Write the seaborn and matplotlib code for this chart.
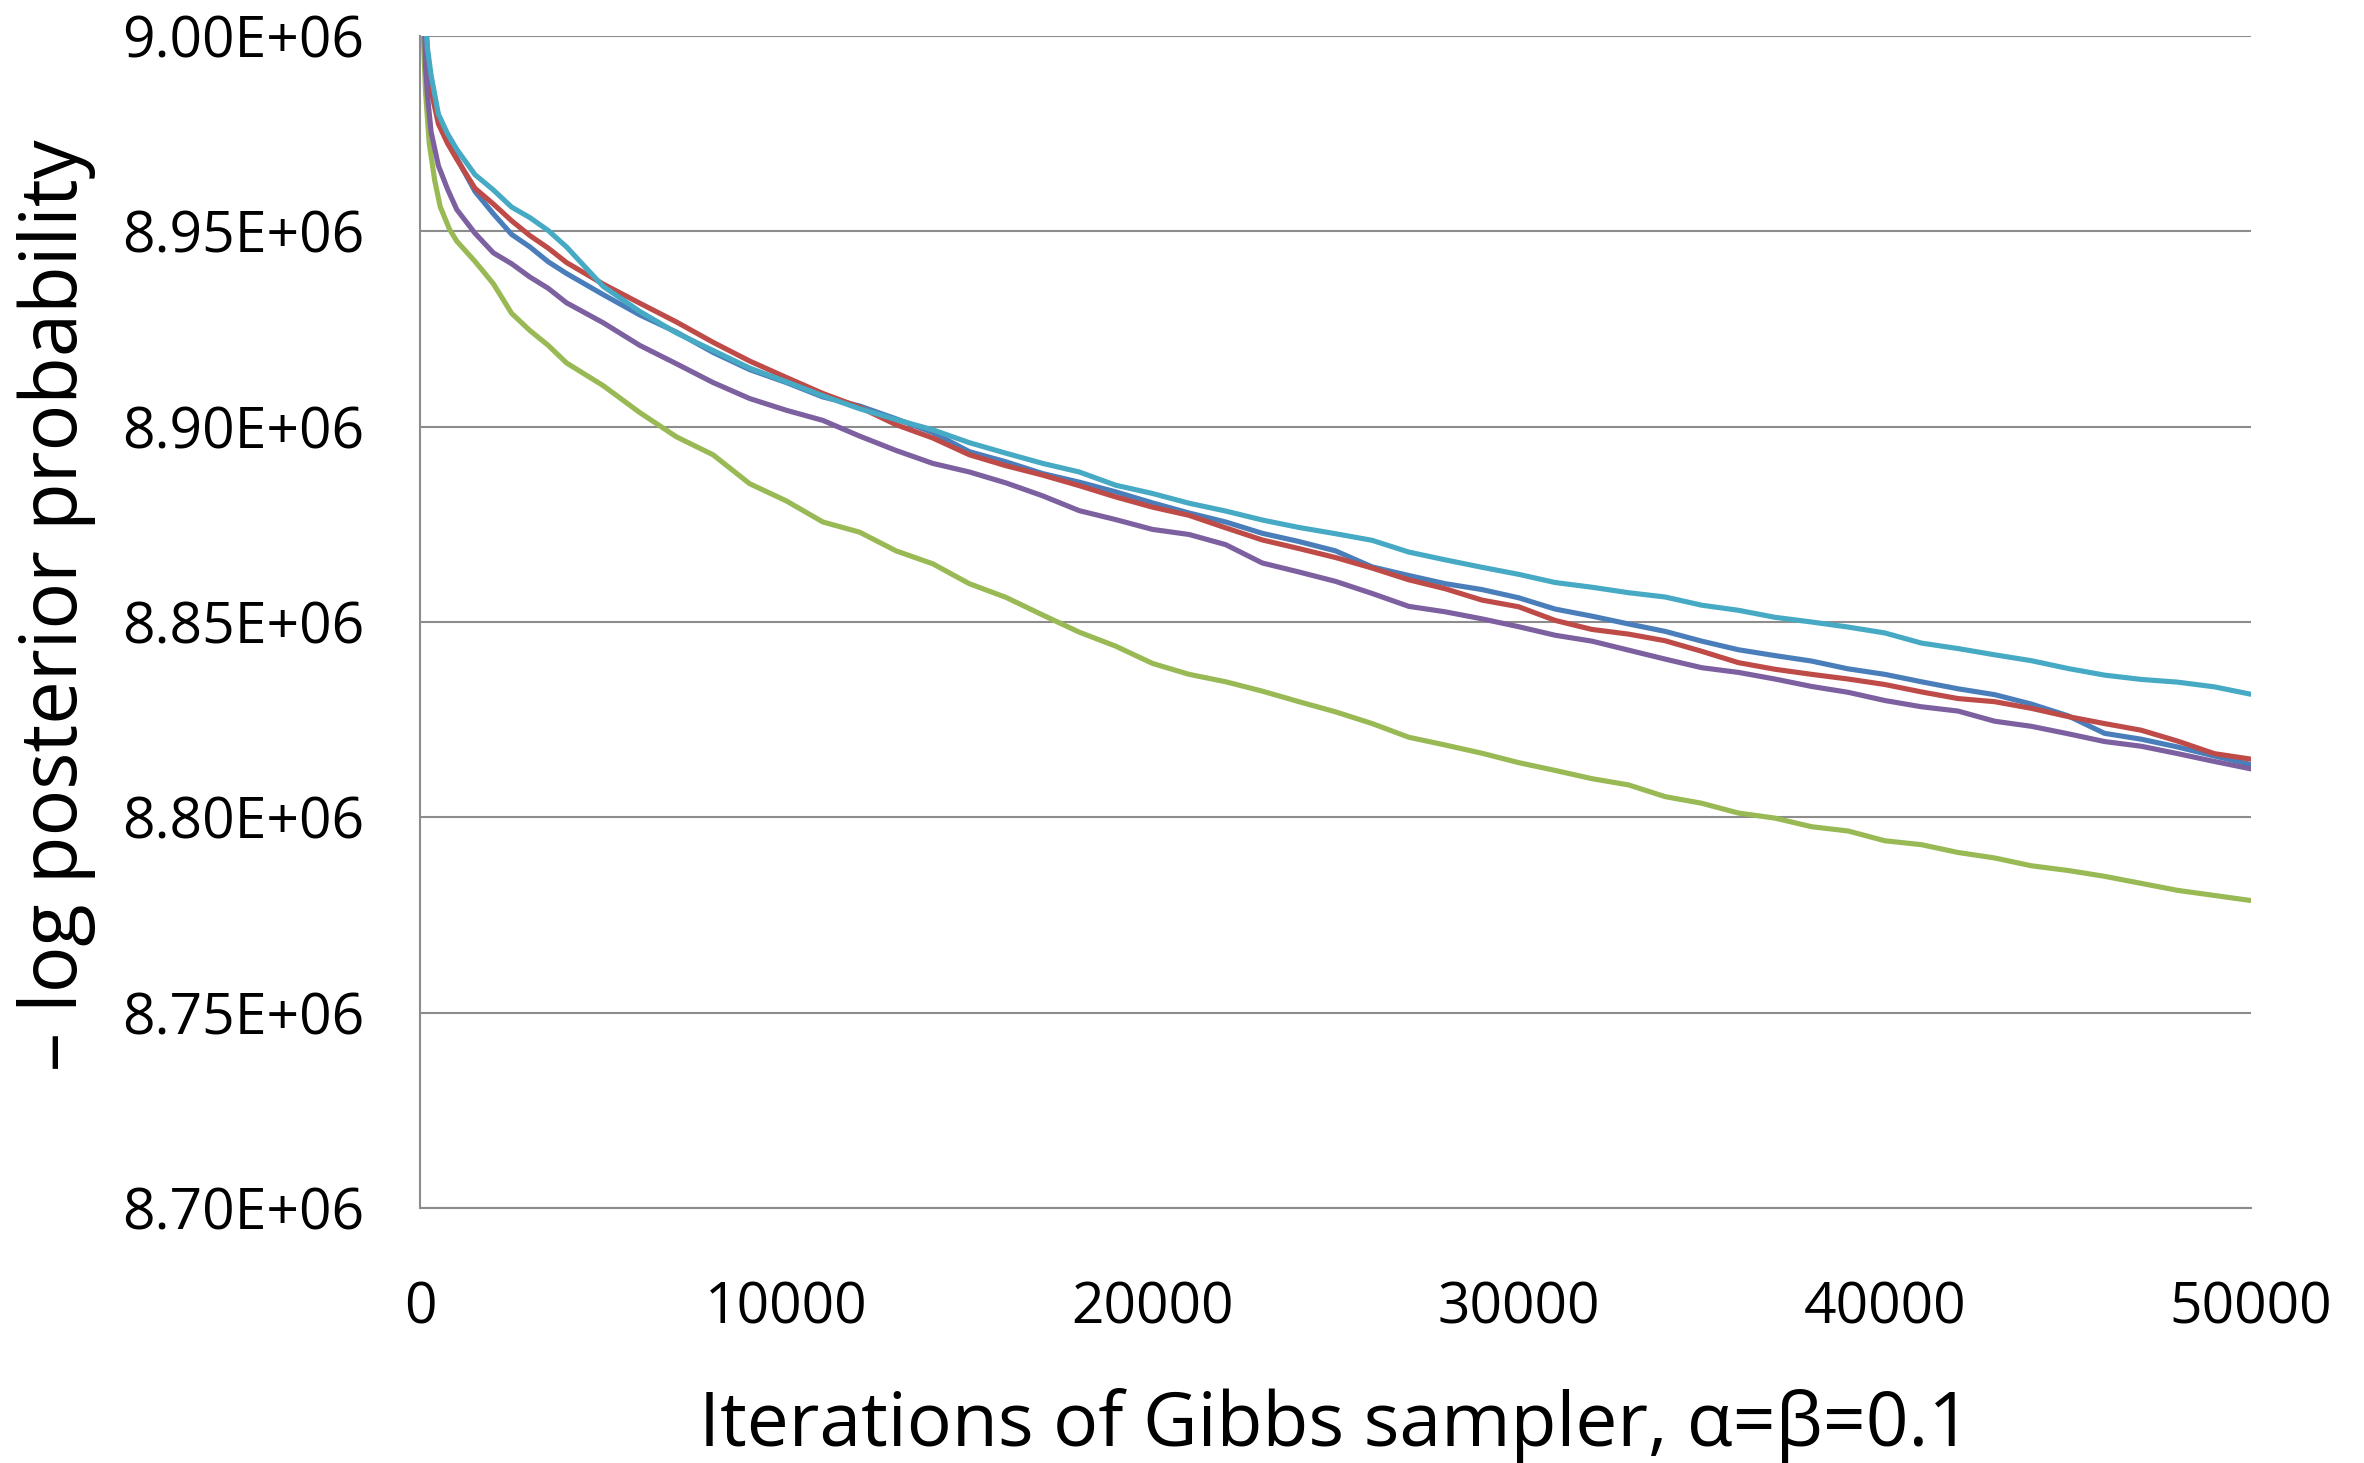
import numpy as np
import pandas as pd
import matplotlib
matplotlib.use('Agg')
import matplotlib.pyplot as plt
from matplotlib.ticker import FuncFormatter
import seaborn as sns

# =============================================================================
# Data (values in thousands, i.e. 8903.2 -> 8.9032E+06)
# =============================================================================
# shared iterations from 5000 on
iters_tail = [5000, 6000, 7000, 8000, 9000, 10000, 11000, 12000, 13000, 14000,
              15000, 16000, 17000, 18000, 19000, 20000, 21000, 22000, 23000, 24000,
              25000, 26000, 27000, 28000, 29000, 30000, 31000, 32000, 33000, 34000,
              35000, 36000, 37000, 38000, 39000, 40000, 41000, 42000, 43000, 44000,
              45000, 46000, 47000, 48000, 49000, 50000]

# early iterations (the burn-in drop), slightly different per run
iters_head = [100, 200, 300, 500, 750, 1000, 1500, 2000, 2500, 3000, 3500, 4000]
iters_head_purple = [100, 150, 200, 300, 500, 750, 1000, 1500, 2000, 2500, 3000, 3500, 4000]
iters_head_green = [50, 100, 150, 250, 400, 550, 800, 1000, 1500, 2000, 2500, 3000, 3500, 4000]

run_blue = [9012, 8996, 8988, 8979.5, 8973.5, 8968.8, 8960.2, 8954.5, 8949.2, 8946.0, 8942.2, 8939.2,
            8933.8, 8928.6, 8924.2, 8919.0, 8914.6, 8911.3, 8907.6, 8905.3, 8902.0, 8898.5,
            8893.6, 8891.0, 8888.0, 8885.8, 8883.3, 8880.5, 8877.9, 8875.6, 8872.7, 8870.6,
            8868.2, 8864.1, 8861.9, 8859.8, 8858.3, 8856.2, 8853.3, 8851.5, 8849.5, 8847.6,
            8845.1, 8842.9, 8841.4, 8840.0, 8838.0, 8836.6, 8834.7, 8832.9, 8831.4, 8829.0,
            8826.0, 8821.5, 8820.0, 8818.0, 8815.7, 8813.5]

run_red = [9012, 8995, 8986, 8977.5, 8972.5, 8968.5, 8961.0, 8957.0, 8952.7, 8948.9, 8945.7, 8942.0,
           8936.5, 8931.6, 8926.8, 8921.6, 8916.8, 8912.6, 8908.5, 8905.0, 8900.5, 8897.1,
           8892.8, 8890.0, 8887.6, 8884.9, 8882.0, 8879.4, 8877.3, 8874.1, 8871.0, 8868.8,
           8866.5, 8863.8, 8860.8, 8858.5, 8855.6, 8853.9, 8850.4, 8848.1, 8846.9, 8845.2,
           8842.5, 8839.6, 8837.9, 8836.6, 8835.4, 8834.0, 8832.1, 8830.4, 8829.6, 8827.9,
           8825.8, 8824.0, 8822.3, 8819.5, 8816.3, 8814.9]

run_green = [9010, 8997, 8985.5, 8972.5, 8963.0, 8956.3, 8950.6, 8947.5, 8942.3, 8936.6, 8929.0,
             8924.6, 8920.8, 8916.3,
             8910.5, 8903.6, 8897.4, 8892.8, 8885.4, 8881.0, 8875.6, 8873.0, 8868.2, 8864.9,
             8859.8, 8856.3, 8851.8, 8847.4, 8843.8, 8839.4, 8836.6, 8834.7, 8832.3, 8829.6,
             8827.0, 8824.0, 8820.5, 8818.5, 8816.4, 8814.0, 8812.0, 8809.9, 8808.3, 8805.3,
             8803.6, 8801.1, 8799.8, 8797.6, 8796.5, 8794.0, 8793.0, 8791.0, 8789.6, 8787.6,
             8786.4, 8784.9, 8783.1, 8781.3, 8780.0, 8778.7]

run_purple = [9010, 8992, 8985, 8975.5, 8966.8, 8960.8, 8955.6, 8949.5, 8944.5, 8941.7, 8938.3,
              8935.4, 8931.7,
              8926.6, 8920.8, 8916.1, 8911.3, 8907.2, 8904.2, 8901.6, 8897.6, 8893.9, 8890.6,
              8888.4, 8885.6, 8882.3, 8878.5, 8876.2, 8873.7, 8872.4, 8869.8, 8865.1, 8862.8,
              8860.4, 8857.3, 8854.0, 8852.6, 8850.8, 8848.8, 8846.6, 8845.1, 8842.8, 8840.5,
              8838.3, 8837.1, 8835.4, 8833.5, 8832.0, 8829.9, 8828.3, 8827.2, 8824.6, 8823.3,
              8821.4, 8819.4, 8818.2, 8816.3, 8814.3, 8812.4]

run_cyan = [9010, 8997, 8990, 8980.0, 8975.0, 8971.0, 8964.5, 8960.6, 8956.2, 8953.5, 8950.2, 8946.0,
            8935.9, 8929.5, 8924.0, 8919.5, 8915.0, 8911.5, 8907.9, 8904.6, 8901.8, 8899.2,
            8895.9, 8893.2, 8890.6, 8888.4, 8885.0, 8882.9, 8880.4, 8878.4, 8876.1, 8874.2,
            8872.6, 8870.9, 8867.9, 8865.9, 8864.0, 8862.2, 8860.1, 8858.9, 8857.5, 8856.4,
            8854.3, 8853.0, 8851.2, 8850.0, 8848.7, 8847.2, 8844.6, 8843.2, 8841.6, 8840.1,
            8838.1, 8836.4, 8835.3, 8834.6, 8833.4, 8831.5]

run_names = ['run 1', 'run 2', 'run 3', 'run 4', 'run 5']
run_colors = ['#4A7EBB', '#BE4B48', '#98B954', '#7D60A0', '#46AAC5']

# =============================================================================
# Long form table for seaborn
# =============================================================================
parts = []
for name, head, vals in zip(run_names,
                            [iters_head, iters_head, iters_head_green, iters_head_purple, iters_head],
                            [run_blue, run_red, run_green, run_purple, run_cyan]):
    x = head + iters_tail
    parts.append(pd.DataFrame({'iteration': x,
                               'nlp': np.array(vals) * 1000.0,
                               'run': name}))
df = pd.concat(parts, ignore_index=True)

# =============================================================================
# Plot
# =============================================================================
sns.set_style('white')
plt.rcParams['font.family'] = ['Open Sans', 'DejaVu Sans']

grey = '#8C8C8C'

fig = plt.figure(figsize=(23.64, 14.63), dpi=100)
ax = fig.add_axes([0.1777, 0.1743, 0.9522 - 0.1777, 0.9754 - 0.1743])

sns.lineplot(data=df, x='iteration', y='nlp', hue='run', hue_order=run_names,
             palette=run_colors, estimator=None, sort=False, legend=False,
             linewidth=3.7, ax=ax)

ax.set_xlim(0, 50000)
ax.set_ylim(8.70e6, 9.00e6)
ax.set_xticks([0, 10000, 20000, 30000, 40000, 50000])
ax.set_yticks([8.70e6, 8.75e6, 8.80e6, 8.85e6, 8.90e6, 8.95e6, 9.00e6])
ax.yaxis.set_major_formatter(FuncFormatter(lambda v, _: f'{v:.2E}'))
ax.xaxis.set_major_formatter(FuncFormatter(lambda v, _: f'{int(v)}'))

ax.yaxis.grid(True, color=grey, linewidth=1.5)
ax.xaxis.grid(False)
ax.set_axisbelow(True)

for side in ['top', 'right']:
    ax.spines[side].set_visible(False)
for side in ['left', 'bottom']:
    ax.spines[side].set_color(grey)
    ax.spines[side].set_linewidth(1.5)

ax.tick_params(axis='both', which='major', direction='out', length=14.4, width=1.5,
               color=grey, labelsize=41, labelcolor='black')
ax.tick_params(axis='x', pad=38)
ax.tick_params(axis='y', pad=26)

ax.set_xlabel('Iterations of Gibbs sampler, α=β=0.1', fontsize=54, color='black')
ax.set_ylabel('– log posterior probability', fontsize=56, color='black')
ax.xaxis.set_label_coords(0.5, -0.154)
ax.yaxis.set_label_coords(-0.177, 0.5145)

fig.savefig('out.png', dpi=100)
